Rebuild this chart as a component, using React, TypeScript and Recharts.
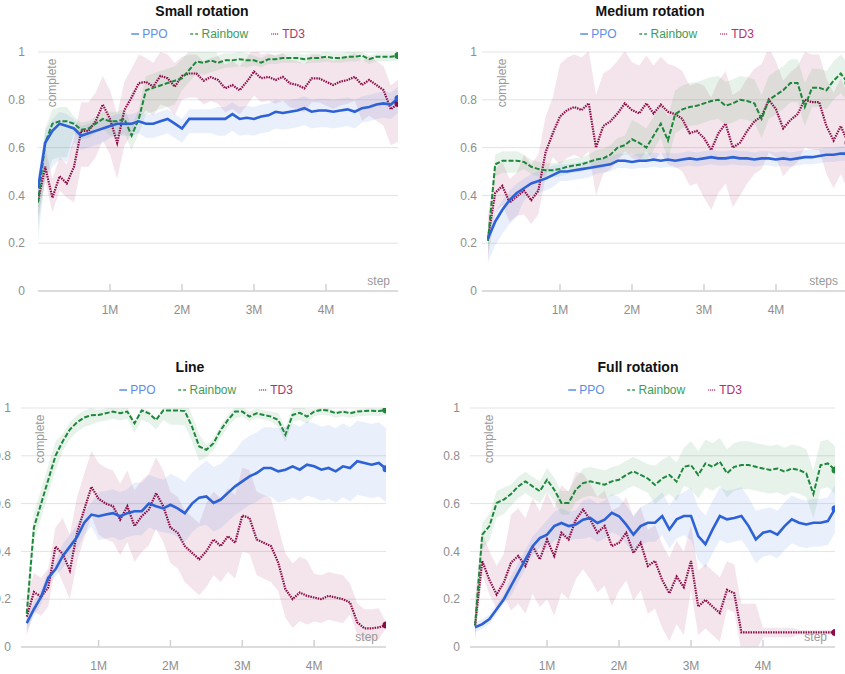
import React from "react";
import { Area, CartesianGrid, ComposedChart, Line, XAxis, YAxis } from "recharts";

// training steps, in millions
const STEPS_M = [
  0, 0.1, 0.2, 0.3, 0.4, 0.5, 0.6, 0.7, 0.8, 0.9, 1, 1.1, 1.2, 1.3, 1.4, 1.5, 1.6,
  1.7, 1.8, 1.9, 2, 2.1, 2.2, 2.3, 2.4, 2.5, 2.6, 2.7, 2.8, 2.9, 3, 3.1, 3.2, 3.3,
  3.4, 3.5, 3.6, 3.7, 3.8, 3.9, 4, 4.1, 4.2, 4.3, 4.4, 4.5, 4.6, 4.7, 4.8, 4.9, 5,
];
const X_TICKS = [1, 2, 3, 4];
const Y_TICKS = [0, 0.2, 0.4, 0.6, 0.8, 1];
const SERIES_NAMES = ["PPO", "Rainbow", "TD3"];

// Small rotation
const SR_PPO = [0.43, 0.62, 0.67, 0.7, 0.69, 0.68, 0.65, 0.66, 0.67, 0.68, 0.69, 0.7, 0.7, 0.7, 0.71, 0.7, 0.7, 0.71, 0.72, 0.7, 0.68, 0.72, 0.72, 0.72, 0.72, 0.72, 0.72, 0.74, 0.72, 0.725, 0.72, 0.73, 0.735, 0.75, 0.745, 0.75, 0.755, 0.765, 0.75, 0.755, 0.755, 0.75, 0.755, 0.76, 0.75, 0.765, 0.77, 0.78, 0.785, 0.78, 0.805];
const SR_RB = [0.37, 0.62, 0.7, 0.71, 0.71, 0.7, 0.675, 0.68, 0.7, 0.72, 0.71, 0.71, 0.72, 0.65, 0.72, 0.84, 0.85, 0.86, 0.87, 0.88, 0.89, 0.925, 0.96, 0.955, 0.965, 0.955, 0.965, 0.965, 0.97, 0.965, 0.965, 0.955, 0.97, 0.97, 0.975, 0.975, 0.975, 0.97, 0.975, 0.975, 0.98, 0.975, 0.975, 0.98, 0.98, 0.985, 0.97, 0.98, 0.98, 0.98, 0.985];
const SR_TD3 = [0.375, 0.52, 0.39, 0.48, 0.45, 0.52, 0.67, 0.67, 0.71, 0.78, 0.72, 0.62, 0.757, 0.81, 0.87, 0.875, 0.855, 0.9, 0.89, 0.855, 0.9, 0.91, 0.91, 0.88, 0.895, 0.883, 0.848, 0.862, 0.84, 0.876, 0.918, 0.89, 0.896, 0.883, 0.896, 0.869, 0.862, 0.848, 0.89, 0.89, 0.876, 0.862, 0.876, 0.883, 0.896, 0.862, 0.883, 0.862, 0.84, 0.76, 0.785];

// Medium rotation
const MR_PPO = [0.22, 0.29, 0.34, 0.38, 0.41, 0.43, 0.45, 0.46, 0.47, 0.485, 0.5, 0.5, 0.505, 0.51, 0.515, 0.52, 0.525, 0.53, 0.545, 0.545, 0.54, 0.545, 0.545, 0.55, 0.545, 0.55, 0.545, 0.55, 0.555, 0.55, 0.555, 0.56, 0.555, 0.555, 0.56, 0.555, 0.555, 0.55, 0.555, 0.555, 0.55, 0.555, 0.55, 0.555, 0.56, 0.56, 0.565, 0.57, 0.57, 0.575, 0.575];
const MR_RB = [0.21, 0.53, 0.545, 0.545, 0.545, 0.54, 0.52, 0.51, 0.505, 0.505, 0.51, 0.52, 0.525, 0.53, 0.54, 0.55, 0.555, 0.57, 0.6, 0.61, 0.635, 0.62, 0.6, 0.65, 0.7, 0.63, 0.74, 0.76, 0.77, 0.775, 0.785, 0.795, 0.8, 0.775, 0.785, 0.8, 0.795, 0.785, 0.72, 0.8, 0.82, 0.84, 0.87, 0.87, 0.77, 0.85, 0.85, 0.84, 0.88, 0.91, 0.87];
const MR_TD3 = [0.22, 0.41, 0.44, 0.37, 0.395, 0.42, 0.38, 0.42, 0.58, 0.66, 0.73, 0.757, 0.77, 0.757, 0.785, 0.6, 0.69, 0.71, 0.743, 0.785, 0.757, 0.743, 0.785, 0.743, 0.78, 0.75, 0.74, 0.72, 0.66, 0.67, 0.64, 0.59, 0.66, 0.7, 0.6, 0.62, 0.67, 0.71, 0.73, 0.8, 0.76, 0.68, 0.715, 0.74, 0.8, 0.79, 0.79, 0.69, 0.63, 0.69, 0.62];

// Line
const LN_PPO = [0.1, 0.158, 0.21, 0.29, 0.325, 0.38, 0.42, 0.46, 0.52, 0.554, 0.547, 0.554, 0.56, 0.547, 0.56, 0.568, 0.568, 0.6, 0.589, 0.58, 0.595, 0.58, 0.56, 0.6, 0.625, 0.63, 0.603, 0.617, 0.645, 0.672, 0.693, 0.714, 0.728, 0.749, 0.749, 0.735, 0.742, 0.756, 0.742, 0.763, 0.756, 0.742, 0.749, 0.735, 0.756, 0.749, 0.777, 0.77, 0.763, 0.77, 0.746];
const LN_RB = [0.14, 0.5, 0.6, 0.7, 0.8, 0.86, 0.91, 0.94, 0.96, 0.97, 0.971, 0.978, 0.985, 0.978, 0.985, 0.936, 0.99, 0.978, 0.95, 0.99, 0.99, 0.99, 0.987, 0.922, 0.839, 0.825, 0.853, 0.908, 0.95, 0.985, 0.985, 0.964, 0.978, 0.971, 0.964, 0.95, 0.888, 0.971, 0.98, 0.964, 0.985, 0.992, 0.989, 0.978, 0.985, 0.978, 0.985, 0.987, 0.989, 0.987, 0.992];
const LN_TD3 = [0.127, 0.23, 0.21, 0.25, 0.42, 0.39, 0.32, 0.478, 0.575, 0.67, 0.62, 0.6, 0.589, 0.533, 0.589, 0.506, 0.547, 0.575, 0.644, 0.589, 0.5, 0.478, 0.422, 0.394, 0.367, 0.401, 0.45, 0.422, 0.464, 0.436, 0.55, 0.54, 0.45, 0.436, 0.422, 0.353, 0.242, 0.2, 0.228, 0.214, 0.207, 0.2, 0.214, 0.207, 0.2, 0.186, 0.103, 0.078, 0.078, 0.082, 0.092];

// Full rotation
const FR_PPO = [0.082, 0.096, 0.117, 0.158, 0.2, 0.256, 0.311, 0.367, 0.422, 0.456, 0.47, 0.506, 0.519, 0.506, 0.512, 0.533, 0.54, 0.519, 0.533, 0.561, 0.547, 0.512, 0.47, 0.506, 0.52, 0.52, 0.548, 0.492, 0.534, 0.548, 0.548, 0.464, 0.43, 0.492, 0.548, 0.534, 0.54, 0.548, 0.506, 0.45, 0.478, 0.485, 0.47, 0.506, 0.534, 0.52, 0.513, 0.52, 0.52, 0.527, 0.578];
const FR_RB = [0.09, 0.47, 0.506, 0.603, 0.617, 0.64, 0.672, 0.693, 0.672, 0.652, 0.7, 0.658, 0.603, 0.603, 0.658, 0.686, 0.693, 0.686, 0.679, 0.693, 0.7, 0.72, 0.735, 0.72, 0.705, 0.678, 0.705, 0.72, 0.692, 0.754, 0.761, 0.72, 0.768, 0.754, 0.775, 0.727, 0.754, 0.761, 0.761, 0.754, 0.747, 0.741, 0.747, 0.734, 0.747, 0.741, 0.727, 0.64, 0.761, 0.768, 0.741];
const FR_TD3 = [0.09, 0.36, 0.28, 0.22, 0.27, 0.353, 0.381, 0.339, 0.422, 0.367, 0.45, 0.381, 0.478, 0.45, 0.533, 0.575, 0.533, 0.478, 0.506, 0.422, 0.436, 0.478, 0.394, 0.436, 0.339, 0.36, 0.28, 0.225, 0.295, 0.25, 0.36, 0.169, 0.197, 0.169, 0.142, 0.239, 0.225, 0.061, 0.061, 0.061, 0.061, 0.061, 0.061, 0.061, 0.061, 0.061, 0.061, 0.061, 0.061, 0.061, 0.061];

// spread below / above each curve, one value per half-million steps
const SR_PPO_LO = [0.15, 0.06, 0.05, 0.06, 0.06, 0.07, 0.07, 0.07, 0.07, 0.06, 0.06];
const SR_PPO_HI = [0.05, 0.04, 0.04, 0.04, 0.04, 0.05, 0.05, 0.05, 0.05, 0.05, 0.05];
const SR_RB_LO = [0.15, 0.04, 0.06, 0.1, 0.05, 0.03, 0.02, 0.02, 0.02, 0.02, 0.02];
const SR_RB_HI = [0.06, 0.03, 0.04, 0.06, 0.08, 0.03, 0.02, 0.02, 0.02, 0.015, 0.01];
const SR_TD3_LO = [0.06, 0.15, 0.15, 0.12, 0.1, 0.1, 0.1, 0.1, 0.1, 0.15, 0.16];
const SR_TD3_HI = [0.08, 0.12, 0.12, 0.1, 0.08, 0.1, 0.1, 0.1, 0.1, 0.1, 0.1];

const MR_PPO_LO = [0.1, 0.05, 0.04, 0.03, 0.03, 0.03, 0.03, 0.03, 0.03, 0.03, 0.03];
const MR_PPO_HI = [0.04, 0.04, 0.03, 0.03, 0.03, 0.03, 0.03, 0.03, 0.03, 0.03, 0.03];
const MR_RB_LO = [0.05, 0.03, 0.03, 0.04, 0.06, 0.08, 0.08, 0.08, 0.08, 0.08, 0.08];
const MR_RB_HI = [0.04, 0.03, 0.03, 0.04, 0.08, 0.1, 0.1, 0.1, 0.1, 0.08, 0.08];
const MR_TD3_LO = [0.08, 0.1, 0.2, 0.2, 0.2, 0.22, 0.25, 0.22, 0.2, 0.2, 0.2];
const MR_TD3_HI = [0.1, 0.15, 0.22, 0.22, 0.2, 0.2, 0.22, 0.22, 0.2, 0.2, 0.2];

const LN_PPO_LO = [0.03, 0.05, 0.1, 0.1, 0.12, 0.12, 0.12, 0.13, 0.13, 0.14, 0.14];
const LN_PPO_HI = [0.03, 0.05, 0.1, 0.12, 0.13, 0.15, 0.17, 0.18, 0.18, 0.17, 0.17];
const LN_RB_LO = [0.06, 0.04, 0.03, 0.04, 0.06, 0.03, 0.02, 0.03, 0.02, 0.02, 0.02];
const LN_RB_HI = [0.06, 0.03, 0.02, 0.01, 0.05, 0.02, 0.02, 0.03, 0.01, 0.01, 0.01];
const LN_TD3_LO = [0.08, 0.12, 0.15, 0.15, 0.15, 0.15, 0.15, 0.12, 0.1, 0.05, 0.01];
const LN_TD3_HI = [0.08, 0.15, 0.15, 0.15, 0.15, 0.2, 0.2, 0.15, 0.1, 0.08, 0.01];

const FR_PPO_LO = [0.02, 0.04, 0.06, 0.08, 0.08, 0.08, 0.1, 0.1, 0.1, 0.1, 0.1];
const FR_PPO_HI = [0.02, 0.04, 0.06, 0.08, 0.08, 0.1, 0.12, 0.12, 0.1, 0.1, 0.1];
const FR_RB_LO = [0.06, 0.05, 0.05, 0.06, 0.06, 0.08, 0.1, 0.1, 0.1, 0.1, 0.1];
const FR_RB_HI = [0.05, 0.04, 0.05, 0.06, 0.06, 0.08, 0.1, 0.1, 0.1, 0.1, 0.1];
const FR_TD3_LO = [0.06, 0.2, 0.25, 0.25, 0.2, 0.2, 0.12, 0.08, 0.02, 0.01, 0.01];
const FR_TD3_HI = [0.12, 0.2, 0.2, 0.15, 0.15, 0.15, 0.15, 0.12, 0.02, 0.01, 0.01];

const FONT = "'Liberation Sans', Arial, Helvetica, sans-serif";
const AXIS_TEXT = "#8e8e8e";
const COLORS = {
  ppo: { line: "#2d62d6", text: "#5b8ee9", band: "#4a7fe0" },
  rb: { line: "#1d873b", text: "#3e9b57", band: "#3a9a55" },
  td3: { line: "#8a0c47", text: "#b0336e", band: "#b04a7a" },
};

type Panel = {
  title: string;
  xLabel: string;
  left: number;
  top: number;
  width: number;
  marginRight: number;
  yAxisWidth: number;
  yGap: number;
  xMin: number;
  titleX: number;
  legendX: number;
  completeX: number;
  stepRight: number;
  series: number[][];
  bands: number[][];
};

const PANELS: Panel[] = [
  {
    title: "Small rotation", xLabel: "step", left: 0, top: 0, width: 408, marginRight: 10,
    yAxisWidth: 38, yGap: 13, xMin: 0, titleX: 202, legendX: 218, completeX: 52, stepRight: 390,
    series: [SR_PPO, SR_RB, SR_TD3],
    bands: [SR_PPO_LO, SR_PPO_HI, SR_RB_LO, SR_RB_HI, SR_TD3_LO, SR_TD3_HI],
  },
  {
    title: "Medium rotation", xLabel: "steps", left: 440, top: 0, width: 408, marginRight: 0,
    yAxisWidth: 42, yGap: 5, xMin: -0.083, titleX: 650, legendX: 667, completeX: 502, stepRight: 838,
    series: [MR_PPO, MR_RB, MR_TD3],
    bands: [MR_PPO_LO, MR_PPO_HI, MR_RB_LO, MR_RB_HI, MR_TD3_LO, MR_TD3_HI],
  },
  {
    title: "Line", xLabel: "step", left: 0, top: 356, width: 396, marginRight: 10,
    yAxisWidth: 21, yGap: 10, xMin: -0.08, titleX: 190, legendX: 206, completeX: 40, stepRight: 378,
    series: [LN_PPO, LN_RB, LN_TD3],
    bands: [LN_PPO_LO, LN_PPO_HI, LN_RB_LO, LN_RB_HI, LN_TD3_LO, LN_TD3_HI],
  },
  {
    title: "Full rotation", xLabel: "step", left: 440, top: 356, width: 405, marginRight: 10,
    yAxisWidth: 30, yGap: 10, xMin: -0.07, titleX: 638, legendX: 655, completeX: 489, stepRight: 827,
    series: [FR_PPO, FR_RB, FR_TD3],
    bands: [FR_PPO_LO, FR_PPO_HI, FR_RB_LO, FR_RB_HI, FR_TD3_LO, FR_TD3_HI],
  },
];

function buildRows(p: Panel) {
  const [ppo, rb, td3] = p.series;
  const [pl, ph, rl, rh, tl, th] = p.bands;
  return STEPS_M.map((x, i) => {
    const s = Math.min(Math.floor(i / 5), 10);
    return {
      x,
      ppo: ppo[i],
      rb: rb[i],
      td3: td3[i],
      ppoBand: [ppo[i] - pl[s], ppo[i] + ph[s]],
      rbBand: [rb[i] - rl[s], rb[i] + rh[s]],
      td3Band: [td3[i] - tl[s], td3[i] + th[s]],
    };
  });
}

function XTick(props: any) {
  const { x, y, payload } = props;
  return (
    <g>
      <line x1={x} x2={x} y1={y - 7} y2={y} stroke="#d2d2d2" strokeWidth={1.5} />
      <text x={x} y={y + 19} textAnchor="middle" dominantBaseline="central" fill={AXIS_TEXT} fontSize={12} fontFamily={FONT}>
        {`${payload.value}M`}
      </text>
    </g>
  );
}

function LegendMark({ dash, color }: { dash?: string; color: string }) {
  return (
    <svg width={8} height={6} style={{ marginRight: 3 }}>
      <line x1={0} x2={8} y1={3} y2={3} stroke={color} strokeWidth={1.4} strokeDasharray={dash} />
    </svg>
  );
}

function ChartPanel({ p }: { p: Panel }) {
  const rows = buildRows(p);
  const last = rows.length - 1;
  const endDot = (color: string) => (d: any) =>
    d.index === last ? (
      <circle key={`end-${d.index}`} cx={d.cx} cy={d.cy} r={3.5} fill={color} stroke="none" />
    ) : (
      <g key={`n-${d.index}`} />
    );
  const plotTop = p.top + 52;
  const plotBottom = plotTop + 239;
  const legend = [
    { name: SERIES_NAMES[0], c: COLORS.ppo, dash: undefined },
    { name: SERIES_NAMES[1], c: COLORS.rb, dash: "3 2" },
    { name: SERIES_NAMES[2], c: COLORS.td3, dash: "1 1" },
  ];

  return (
    <>
      <div style={{ position: "absolute", left: p.left, top: p.top }}>
        <ComposedChart
          width={p.width}
          height={321}
          data={rows}
          margin={{ top: 52, right: p.marginRight, bottom: 0, left: 0 }}
        >
          <CartesianGrid vertical={false} stroke="#e3e3e3" />
          <XAxis
            type="number"
            dataKey="x"
            domain={[p.xMin, 5]}
            allowDataOverflow
            ticks={X_TICKS}
            interval={0}
            height={30}
            tickSize={0}
            tickMargin={0}
            tickLine={false}
            axisLine={{ stroke: "#d4d4d4", strokeWidth: 1.5 }}
            tick={<XTick />}
          />
          <YAxis
            type="number"
            domain={[0, 1]}
            allowDataOverflow
            ticks={Y_TICKS}
            interval={0}
            width={p.yAxisWidth}
            tickSize={0}
            tickMargin={p.yGap}
            tickLine={false}
            axisLine={false}
            tick={{ fill: AXIS_TEXT, fontSize: 12, fontFamily: FONT }}
          />
          <Area type="linear" dataKey="td3Band" stroke="none" fill={COLORS.td3.band} fillOpacity={0.14} isAnimationActive={false} activeDot={false} />
          <Area type="linear" dataKey="rbBand" stroke="none" fill={COLORS.rb.band} fillOpacity={0.12} isAnimationActive={false} activeDot={false} />
          <Area type="linear" dataKey="ppoBand" stroke="none" fill={COLORS.ppo.band} fillOpacity={0.12} isAnimationActive={false} activeDot={false} />
          <Line type="linear" dataKey="td3" stroke={COLORS.td3.line} strokeWidth={2.2} strokeDasharray="1.5 1" dot={endDot(COLORS.td3.line)} activeDot={false} isAnimationActive={false} />
          <Line type="linear" dataKey="rb" stroke={COLORS.rb.line} strokeWidth={2} strokeDasharray="5 2" dot={endDot(COLORS.rb.line)} activeDot={false} isAnimationActive={false} />
          <Line type="linear" dataKey="ppo" stroke={COLORS.ppo.line} strokeWidth={2.6} dot={endDot(COLORS.ppo.line)} activeDot={false} isAnimationActive={false} />
        </ComposedChart>
      </div>

      <div style={{ position: "absolute", left: p.titleX, top: p.top + 11, transform: "translate(-50%, -50%)", fontWeight: "bold", fontSize: 14, color: "#111", whiteSpace: "nowrap" }}>
        {p.title}
      </div>
      <div style={{ position: "absolute", left: p.legendX, top: p.top + 34, transform: "translate(-50%, -50%)", display: "flex", gap: 23, fontSize: 12, whiteSpace: "nowrap", alignItems: "center" }}>
        {legend.map((l) => (
          <span key={l.name} style={{ display: "flex", alignItems: "center", color: l.c.text }}>
            <LegendMark dash={l.dash} color={l.c.text} />
            {l.name}
          </span>
        ))}
      </div>
      <div style={{ position: "absolute", left: p.completeX, top: plotTop + 31, transform: "translate(-50%, -50%) rotate(-90deg)", fontSize: 12, color: "#999", whiteSpace: "nowrap" }}>
        complete
      </div>
      <div style={{ position: "absolute", right: 845 - p.stepRight, top: plotBottom - 10, transform: "translateY(-50%)", fontSize: 12, color: "#999", whiteSpace: "nowrap" }}>
        {p.xLabel}
      </div>
    </>
  );
}

export default function App() {
  return (
    <div style={{ position: "absolute", left: 0, top: 0, width: 845, height: 674, overflow: "hidden", background: "#fff", fontFamily: FONT }}>
      {PANELS.map((p) => (
        <ChartPanel key={p.title} p={p} />
      ))}
    </div>
  );
}
